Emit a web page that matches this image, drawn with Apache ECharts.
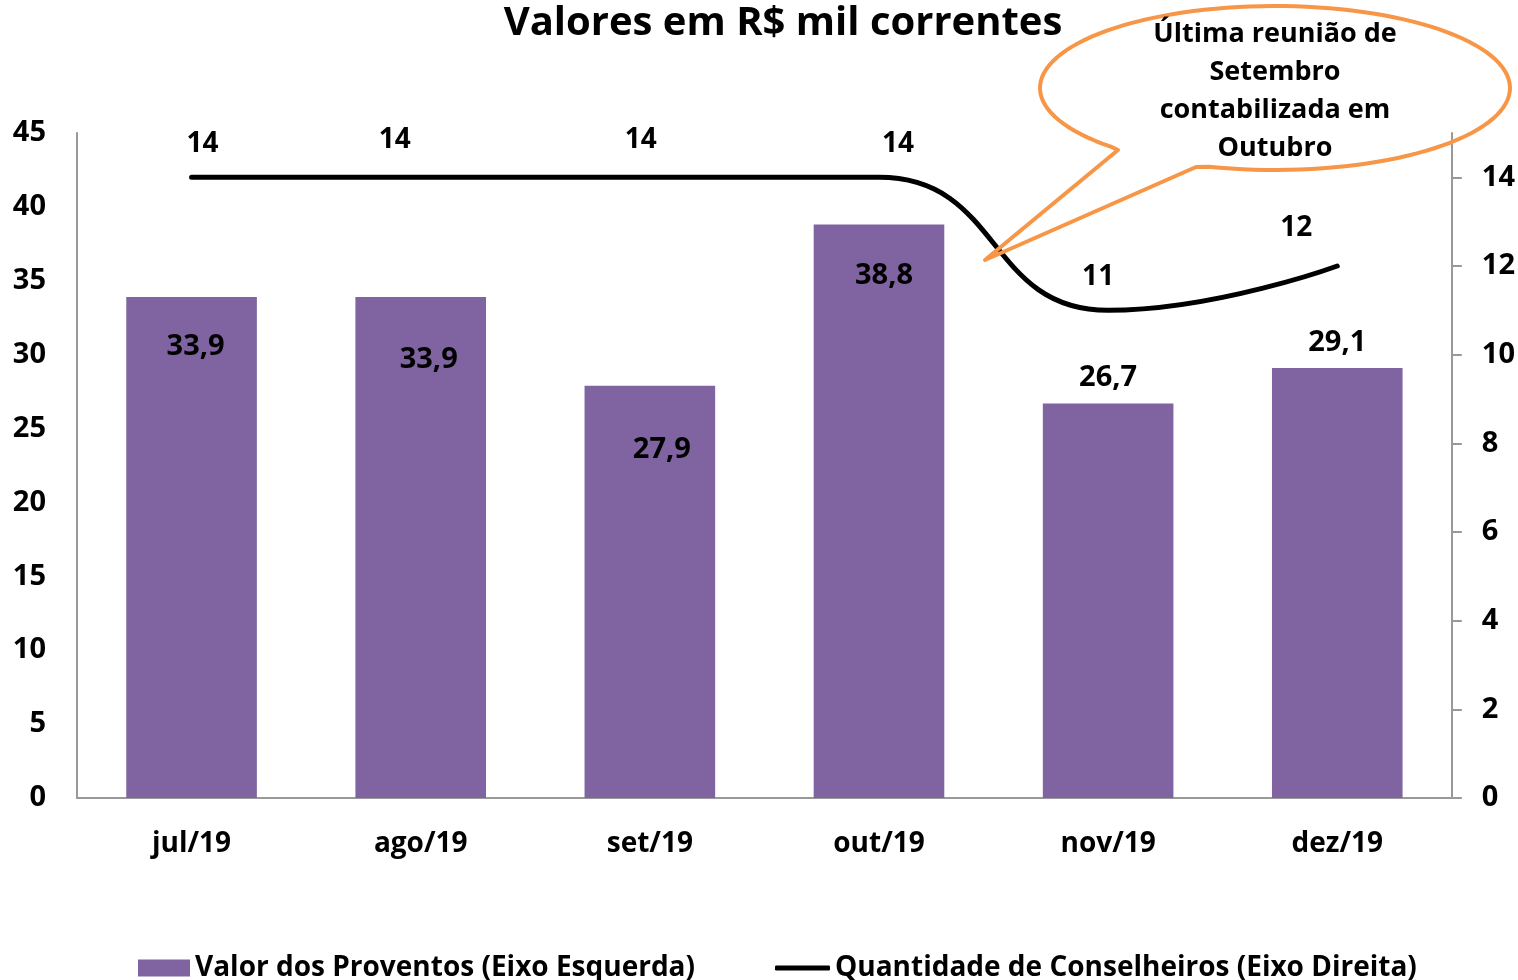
<!DOCTYPE html>
<html>
<head>
<meta charset="utf-8">
<script src="https://cdn.jsdelivr.net/npm/echarts@6/dist/echarts.min.js"></script>
<style>
  html, body { margin: 0; padding: 0; background: #fff; }
  #chart { width: 1518px; height: 980px; }
</style>
</head>
<body>
<div id="chart"></div>
<script>
// dados do gráfico
var meses = ["jul/19", "ago/19", "set/19", "out/19", "nov/19", "dez/19"];
var proventos = [33.9, 33.9, 27.9, 38.8, 26.7, 29.1];
var conselheiros = [14, 14, 14, 14, 11, 12];
var notaLinhas = ["Última reunião de", "Setembro", "contabilizada em", "Outubro"];

// deslocamento dos rótulos (só estilo)
var offBarra = [[4, 27], [8, 40], [12, 42], [5, 29], [0, 0], [0, 0]];
var offLinha = [[11, -33], [-26, -37], [-9, -37], [19, -33], [-10, -33], [-41, -38]];

var FONT = "Open Sans";
var chart = echarts.init(document.getElementById("chart"));

// balão da nota: elipse com ponta
function balao() {
  var cx = 1275, cy = 88, rx = 235, ry = 82;
  var pts = [[1118, 150], [985, 260], [1196, 167]];
  var t0 = 109.2, t1 = 131.5 - 360;
  for (var k = 1; k < 120; k++) {
    var t = (t0 + (t1 - t0) * k / 120) * Math.PI / 180;
    pts.push([cx + rx * Math.cos(t), cy + ry * Math.sin(t)]);
  }
  return pts;
}

var barData = proventos.map(function (v, i) {
  return {
    value: v,
    label: {
      position: i >= 4 ? "top" : "insideTop",
      offset: offBarra[i],
      distance: i >= 4 ? 11 : 8
    }
  };
});
var lineData = conselheiros.map(function (v, i) {
  return { value: v, label: { offset: offLinha[i] } };
});

var nomeBarra = "Valor dos Proventos (Eixo Esquerda)";
var nomeLinha = "Quantidade de Conselheiros (Eixo Direita)";
var legendText = { fontSize: 28, fontWeight: "bold", color: "#000", fontFamily: FONT };

chart.setOption({
  animation: false,
  textStyle: { fontFamily: FONT },
  title: {
    text: "Valores em R$ mil correntes",
    left: 783,
    top: 4,
    padding: 0,
    textAlign: "center",
    textStyle: { fontSize: 40, fontWeight: "bold", color: "#000", fontFamily: FONT }
  },
  grid: { left: 77, right: 66, top: 133, bottom: 182 },
  legend: [
    {
      left: 138,
      top: 954,
      padding: 0,
      itemWidth: 52,
      itemHeight: 17,
      textStyle: legendText,
      data: [{ name: nomeBarra, icon: "rect" }]
    },
    {
      left: 775,
      top: 954,
      padding: 0,
      itemWidth: 55,
      itemHeight: 5,
      textStyle: legendText,
      data: [{ name: nomeLinha, icon: "roundRect" }]
    }
  ],
  xAxis: {
    type: "category",
    data: meses,
    axisLine: { lineStyle: { color: "#999", width: 2 } },
    axisTick: { show: false },
    axisLabel: { fontSize: 28, fontWeight: "bold", color: "#000", margin: 32 }
  },
  yAxis: [
    {
      type: "value",
      min: 0,
      max: 45,
      interval: 5,
      splitLine: { show: false },
      axisLine: { show: true, lineStyle: { color: "#999", width: 2 } },
      axisTick: { show: false },
      axisLabel: { fontSize: 29, fontWeight: "bold", color: "#000", margin: 31 }
    },
    {
      type: "value",
      min: 0,
      max: 15,
      interval: 2,
      splitLine: { show: false },
      axisLine: { show: true, lineStyle: { color: "#999", width: 2 } },
      axisTick: { show: true, length: 10, lineStyle: { color: "#999", width: 2 } },
      axisLabel: { fontSize: 29, fontWeight: "bold", color: "#000", margin: 30, showMaxLabel: false }
    }
  ],
  series: [
    {
      name: nomeBarra,
      type: "bar",
      yAxisIndex: 0,
      barWidth: "57%",
      itemStyle: { color: "#8064A2" },
      label: {
        show: true,
        fontSize: 29,
        fontWeight: "bold",
        color: "#000",
        formatter: function (p) { return String(p.value).replace(".", ","); }
      },
      data: barData
    },
    {
      name: nomeLinha,
      type: "line",
      yAxisIndex: 1,
      smooth: 0.5,
      symbol: "circle",
      symbolSize: 1,
      showSymbol: true,
      lineStyle: { color: "#000", width: 5, cap: "round" },
      itemStyle: { color: "#000" },
      label: {
        show: true,
        position: "inside",
        fontSize: 28,
        fontWeight: "bold",
        color: "#000"
      },
      data: lineData,
      z: 3
    }
  ],
  graphic: [
    {
      type: "polygon",
      z: 10,
      shape: { points: balao() },
      style: { fill: "none", stroke: "#F79646", lineWidth: 4, lineJoin: "round" }
    },
    {
      type: "text",
      z: 11,
      x: 1275,
      y: 15,
      style: {
        text: notaLinhas.join("\n"),
        align: "center",
        textAlign: "center",
        verticalAlign: "top",
        fontSize: 27,
        fontWeight: "bold",
        fontFamily: FONT,
        lineHeight: 38,
        fill: "#000"
      }
    }
  ]
});
</script>
</body>
</html>
